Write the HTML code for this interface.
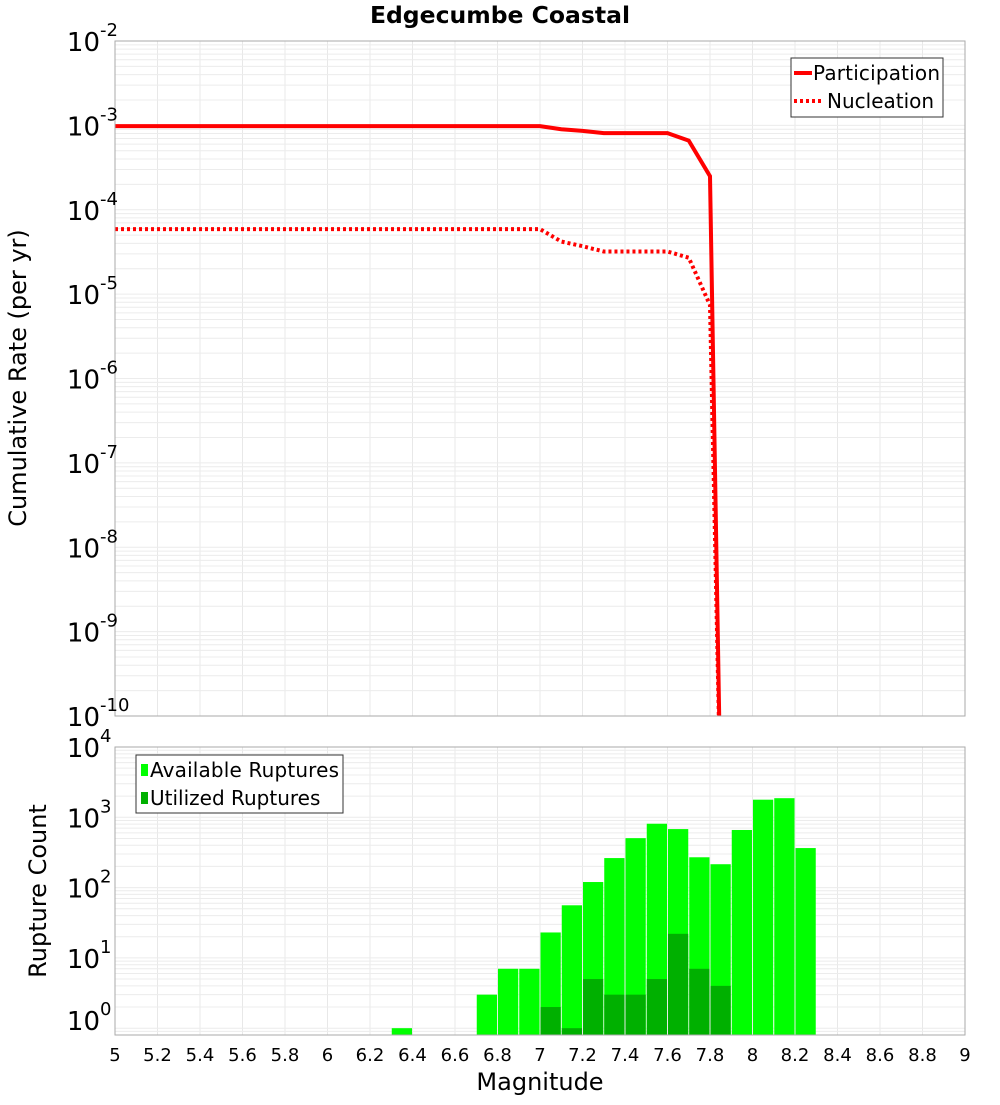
<!DOCTYPE html>
<html><head><meta charset="utf-8"><style>
body{margin:0;background:#fff;width:1000px;height:1100px;overflow:hidden}
svg text{font-family:"DejaVu Sans","Liberation Sans",sans-serif}
</style></head><body>
<svg id="c" width="1000" height="1100" xmlns="http://www.w3.org/2000/svg"></svg>
<script>
const mags=[5,5.1,5.2,5.3,5.4,5.5,5.6,5.7,5.8,5.9,6,6.1,6.2,6.3,6.4,6.5,6.6,6.7,6.8,6.9,7,7.1,7.2,7.3,7.4,7.5,7.6,7.7,7.8,7.85];
const participation=[9.8e-4,9.8e-4,9.8e-4,9.8e-4,9.8e-4,9.8e-4,9.8e-4,9.8e-4,9.8e-4,9.8e-4,9.8e-4,9.8e-4,9.8e-4,9.8e-4,9.8e-4,9.8e-4,9.8e-4,9.8e-4,9.8e-4,9.8e-4,9.8e-4,9.0e-4,8.6e-4,8.1e-4,8.1e-4,8.1e-4,8.1e-4,6.6e-4,2.5e-4,1e-11];
const nucleation=[5.9e-5,5.9e-5,5.9e-5,5.9e-5,5.9e-5,5.9e-5,5.9e-5,5.9e-5,5.9e-5,5.9e-5,5.9e-5,5.9e-5,5.9e-5,5.9e-5,5.9e-5,5.9e-5,5.9e-5,5.9e-5,5.9e-5,5.9e-5,5.9e-5,4.2e-5,3.7e-5,3.2e-5,3.2e-5,3.2e-5,3.2e-5,2.7e-5,7.4e-6,1e-11];
const barMags=[6.35,6.75,6.85,6.95,7.05,7.15,7.25,7.35,7.45,7.55,7.65,7.75,7.85,7.95,8.05,8.15,8.25];
const available=[1,3,7,7,23,56,120,263,505,810,680,270,215,660,1780,1870,365];
const utilized=[0,0,0,0,2,1,5,3,3,5,22,7,4,0,0,0,0];
const xTicks=[5,5.2,5.4,5.6,5.8,6,6.2,6.4,6.6,6.8,7,7.2,7.4,7.6,7.8,8,8.2,8.4,8.6,8.8,9];
const topExps=[-2,-3,-4,-5,-6,-7,-8,-9,-10];
const botExps=[4,3,2,1,0];

const S=document.getElementById('c');const NS='http://www.w3.org/2000/svg';
function el(t,a,p){const e=document.createElementNS(NS,t);for(const k in a)e.setAttribute(k,a[k]);(p||S).appendChild(e);return e;}
const L=115,R=965,T1=41,B1=716,T2=747,B2=1035;
const X=m=>L+(m-5)/4*(R-L);
const Y1=v=>{const l=Math.log10(v);return T1+(-2-l)/8*(B1-T1);};
const bMin=Math.log10(0.8),bMax=4;
const Y2=v=>{const l=Math.log10(v);return B2-(l-bMin)/(bMax-bMin)*(B2-T2);};

const g1=el('g',{});
const g2=el('g',{});
for(const m of xTicks){el('line',{x1:X(m),x2:X(m),y1:T1,y2:B1,stroke:'#e8e8e8'},g1);el('line',{x1:X(m),x2:X(m),y1:T2,y2:B2,stroke:'#e8e8e8'},g2);}
for(let e=-10;e<-2;e++)for(let k=1;k<10;k++){const y=Y1(k*Math.pow(10,e));el('line',{x1:L,x2:R,y1:y,y2:y,stroke:'#ececec'},g1);}
for(let e=-1;e<4;e++)for(let k=1;k<10;k++){const v=k*Math.pow(10,e);if(Math.log10(v)<bMin)continue;const y=Y2(v);el('line',{x1:L,x2:R,y1:y,y2:y,stroke:'#ececec'},g2);}

const clip=el('clipPath',{id:'cp'});el('rect',{x:L,y:T1,width:R-L,height:B1-T1},clip);
const pl=el('polyline',{points:mags.map((m,i)=>X(m)+','+Y1(participation[i])).join(' '),fill:'none',stroke:'#f00','stroke-width':4,'clip-path':'url(#cp)'});

const nl=el('polyline',{points:mags.map((m,i)=>X(m)+','+Y1(nucleation[i])).join(' '),fill:'none',stroke:'#f00','stroke-width':4,'stroke-dasharray':'3 3','clip-path':'url(#cp)'});


const bw=(X(5.1)-X(5))-1;
barMags.forEach((m,i)=>{
 const y=Y2(available[i]);const r=el('rect',{x:X(m)-bw/2,y:y,width:bw,height:B2-y,fill:'#00ff00'});
 
 if(utilized[i]>0){const y2=Y2(utilized[i]);const u=el('rect',{x:X(m)-bw/2,y:y2,width:bw,height:B2-y2,fill:'#00b000'});
 }
});

const f1=el('rect',{x:L,y:T1,width:R-L,height:B1-T1,fill:'none',stroke:'#aaa'});
const f2=el('rect',{x:L,y:T2,width:R-L,height:B2-T2,fill:'none',stroke:'#aaa'});

function ylab(y,e){const t=el('text',{x:100,y:y+10,'text-anchor':'end','font-size':26});t.textContent='10';
 
 const s=el('text',{x:100,y:y-5,'font-size':18});s.textContent=String(e);}
topExps.forEach(e=>ylab(Y1(Math.pow(10,e)),e));
botExps.forEach(e=>ylab(Y2(Math.pow(10,e))-(e==0?8:0),e));

xTicks.forEach(m=>{const t=el('text',{x:X(m),y:1061,'text-anchor':'middle','font-size':18});t.textContent=String(m);
 });

let t=el('text',{x:500,y:23,'text-anchor':'middle','font-size':23.5,'font-weight':'bold'});t.textContent='Edgecumbe Coastal';
t=el('text',{x:540,y:1090,'text-anchor':'middle','font-size':24});t.textContent='Magnitude';
t=el('text',{x:0,y:0,'text-anchor':'middle','font-size':24,transform:'translate(26,378) rotate(-90)'});t.textContent='Cumulative Rate (per yr)';
t=el('text',{x:0,y:0,'text-anchor':'middle','font-size':24,transform:'translate(46,891) rotate(-90)'});t.textContent='Rupture Count';

const lg1=el('g',{});
el('rect',{x:791,y:58,width:152,height:59,fill:'#fff',stroke:'#333'},lg1);
el('line',{x1:794,x2:812,y1:73,y2:73,stroke:'#f00','stroke-width':4},lg1);
el('line',{x1:794,x2:822,y1:101,y2:101,stroke:'#f00','stroke-width':4,'stroke-dasharray':'3 3'},lg1);
t=el('text',{x:813,y:80,'font-size':20,textLength:127},lg1);t.textContent='Participation';
t=el('text',{x:827,y:108,'font-size':20},lg1);t.textContent='Nucleation';
const lg2=el('g',{});
el('rect',{x:136,y:755,width:207,height:58,fill:'#fff',stroke:'#333'},lg2);
el('rect',{x:141,y:764,width:7,height:12,fill:'#00ff00'},lg2);
el('rect',{x:141,y:792,width:7,height:12,fill:'#00b000'},lg2);
t=el('text',{x:150,y:777,'font-size':20,textLength:189},lg2);t.textContent='Available Ruptures';
t=el('text',{x:150,y:805,'font-size':20},lg2);t.textContent='Utilized Ruptures';
</script>
</body></html>
